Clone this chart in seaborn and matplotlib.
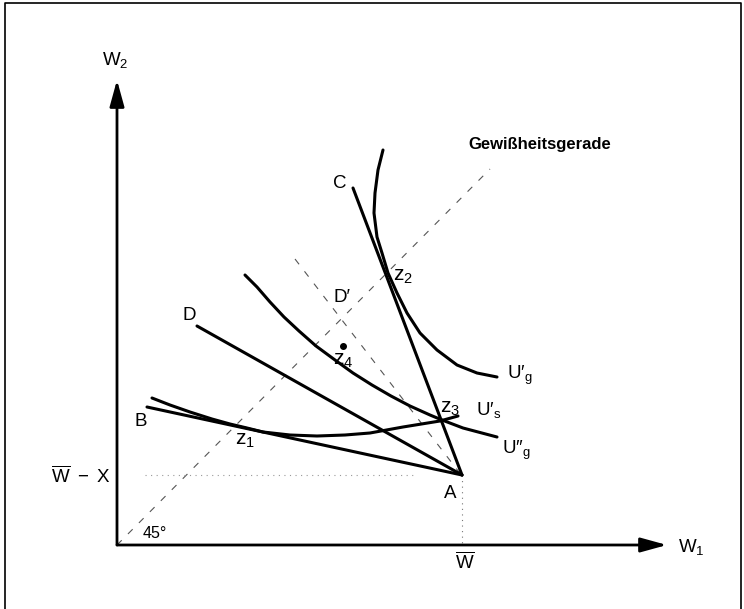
import numpy as np
import pandas as pd
import seaborn as sns
import matplotlib
matplotlib.use("Agg")
import matplotlib.pyplot as plt

# diagram coordinates: origin where the two axes meet
W_bar = 345          # initial wealth W
W_minus_X = 70       # wealth after loss
A = (W_bar, W_minus_X)
C = (236, 357)
D = (80, 219)
B = (30, 138)
x_axis_end = 550
y_axis_end = 465

# Gewissheitsgerade (45 degree line)
cert_x = [0, 373]
cert_y = [0, 376]
# dashed fair-odds line through D'
dprime_x = [178, 345]
dprime_y = [286, 69]

# indifference curves
ug1_x = [266, 261, 258, 257, 260, 265, 271, 280, 290, 303, 320, 340, 360, 380]
ug1_y = [395, 375, 352, 332, 308, 292, 272, 252, 232, 212, 195, 180, 172, 168]
ug2_x = [128, 140, 153, 167, 182, 199, 218, 236, 255, 274, 293, 313, 325, 346, 380]
ug2_y = [270, 258, 243, 228, 214, 199, 185, 172, 160, 149, 139, 130, 125, 117, 108]
us_x = [35, 53, 73, 95, 113, 130, 146, 173, 200, 228, 253, 286, 323, 341]
us_y = [147, 140, 133, 126, 121, 117, 113, 110, 109, 110, 112, 118, 124, 129]

z4 = (226, 199)

sns.set_theme(style="white")
plt.rcParams['font.family'] = ['Liberation Sans', 'DejaVu Sans']
plt.rcParams['text.color'] = 'black'
plt.rcParams['mathtext.fontset'] = 'custom'
plt.rcParams['mathtext.rm'] = 'Liberation Sans'
plt.rcParams['mathtext.it'] = 'Liberation Sans:italic'
plt.rcParams['mathtext.bf'] = 'Liberation Sans:bold'

fig = plt.figure(figsize=(7.44, 6.09), dpi=100)
ax = fig.add_axes([0, 0, 1, 1])
ax.set_xlim(-117, 627)
ax.set_ylim(-64, 545)
ax.axis('off')

# frame round the figure
ax.plot([-112, -112, 624, 624], [-64, 542, 542, -64], color='black', lw=1.2)

# axes with arrows
arr = dict(arrowstyle='-|>,head_length=0.8,head_width=0.22', color='black',
           lw=2, shrinkA=0, shrinkB=0, mutation_scale=20)
ax.annotate('', xy=(x_axis_end, 0), xytext=(0, 0), arrowprops=arr)
ax.annotate('', xy=(0, y_axis_end), xytext=(0, 0), arrowprops=arr)

# thin helper lines
ax.plot(cert_x, cert_y, color='#555555', lw=0.8, ls=(0, (6, 8)))
ax.plot(dprime_x, dprime_y, color='#555555', lw=0.8, ls=(0, (6, 8)))
ax.plot([W_bar, W_bar], [W_minus_X, 0], color='#777777', lw=0.8, ls=(0, (1, 4)))
ax.plot([28, 300], [W_minus_X, W_minus_X], color='#999999', lw=0.8, ls=(0, (1, 4)))

# budget lines to A
for P in (C, D, B):
    sns.lineplot(x=[P[0], A[0]], y=[P[1], A[1]], ax=ax, color='black', lw=2.2,
                 sort=False, estimator=None)

# indifference curves
for cx, cy in ((ug1_x, ug1_y), (ug2_x, ug2_y), (us_x, us_y)):
    sns.lineplot(x=cx, y=cy, ax=ax, color='black', lw=2.2, sort=False,
                 estimator=None)

ax.plot(*z4, 'o', color='black', ms=4)

fs = 13.5
ax.text(-2, 485, r'$\mathregular{W_2}$', fontsize=fs, ha='center', va='center')
ax.text(561, -2, r'$\mathregular{W_1}$', fontsize=fs, ha='left', va='center')
ax.text(348, -17, r'$\overline{\mathregular{W}}$', fontsize=fs, ha='center', va='center')
ax.text(-7, 69, r'$\overline{\mathregular{W}}\ -\ \mathregular{X}$', fontsize=fs,
        ha='right', va='center')
ax.text(38, 12, '45°', fontsize=11.5, ha='center', va='center')
ax.text(351, 400, 'Gewißheitsgerade', fontsize=12, fontweight='bold', ha='left',
        va='center')
ax.text(333, 52, 'A', fontsize=fs, ha='center', va='center')
ax.text(24, 123, 'B', fontsize=fs, ha='center', va='center')
ax.text(223, 362, 'C', fontsize=fs, ha='center', va='center')
ax.text(72, 229, 'D', fontsize=fs, ha='center', va='center')
ax.text(225, 247, "D′", fontsize=fs, ha='center', va='center')
ax.text(276, 268, r'$\mathregular{z_2}$', fontsize=15, ha='left', va='center')
ax.text(323, 137, r'$\mathregular{z_3}$', fontsize=15, ha='left', va='center')
ax.text(216, 185, r'$\mathregular{z_4}$', fontsize=15, ha='left', va='center')
ax.text(118, 105, r'$\mathregular{z_1}$', fontsize=15, ha='left', va='center')
ax.text(390, 170, r"$\mathregular{U′_g}$", fontsize=fs, ha='left', va='center')
ax.text(359, 135, r"$\mathregular{U′_s}$", fontsize=fs, ha='left', va='center')
ax.text(385, 95, r"$\mathregular{U″_g}$", fontsize=fs, ha='left', va='center')

fig.savefig('out.png', dpi=100)
